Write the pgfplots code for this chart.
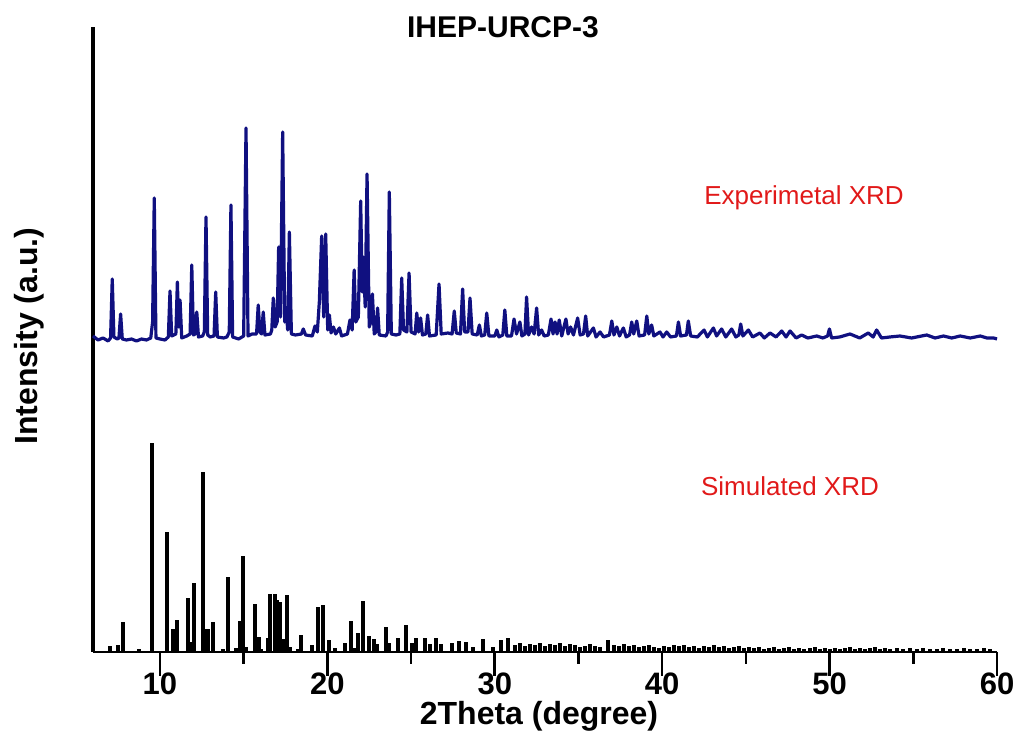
\documentclass[border=0pt]{standalone}
\usepackage{fontspec}
\setmainfont{Liberation Sans}
\usepackage{pgfplots}
\pgfplotsset{compat=1.18}
\definecolor{expblue}{RGB}{16,16,128}
\definecolor{lblred}{RGB}{225,25,25}

\begin{document}
\begin{tikzpicture}
\begin{axis}[
    at={(0,0)}, anchor=south west,
    scale only axis, width=904pt, height=625pt,
    xmin=6, xmax=60, ymin=0, ymax=625,
    axis x line*=bottom, axis y line*=left,
    x axis line style={line width=2.4pt, black},
    y axis line style={line width=3.5pt, black},
    ytick=\empty,
    xtick={10,20,...,60},
    minor xtick={15,25,...,55},
    tick align=outside,
    major tick length=24pt, minor tick length=12pt,
    tick style={draw=black, line width=2.6pt},
    /pgf/number format/assume math mode=true,
    xticklabel style={font=\fontsize{31}{31}\selectfont\bfseries, yshift=7pt},
    xlabel={2Theta (degree)},
    xlabel style={at={(axis description cs:0.4934,-0.1024)}, anchor=center,
        font=\fontsize{32}{32}\selectfont\bfseries},
    ylabel={Intensity (a.u.)},
    ylabel style={at={(axis description cs:-0.0708,0.5056)}, anchor=center, rotate=0,
        font=\fontsize{32}{32}\selectfont\bfseries},
    clip=false,
    ]
% simulated pattern
\addplot[ycomb, black, line width=4pt, line cap=butt] coordinates {
(7.02,6) (7.51,7) (7.81,30) (8.75,3) (9.5,209) (10.4,120) (10.8,23) (11.04,32)
(11.66,54) (11.8,10) (12.05,69) (12.55,180) (12.75,23) (12.87,23) (13.15,30)
(13.78,3) (14.08,75) (14.52,4) (14.78,31) (14.98,96) (15.12,5) (15.68,48)
(15.92,15) (16.05,3) (16.43,14) (16.57,58) (16.87,58) (17.01,52) (17.17,50)
(17.33,13) (17.57,57) (17.77,5) (18.23,3) (18.43,17) (19.06,7) (19.46,45)
(19.76,47) (20.12,12) (20.46,4) (21.05,9) (21.41,31) (21.65,4) (21.85,19)
(22.15,51) (22.47,16) (22.79,13) (22.98,8) (23.5,25) (23.7,9) (24.24,14)
(24.68,27) (25.03,9) (25.3,14) (25.83,14) (26.13,8) (26.47,14) (26.79,8)
(27.43,9) (27.88,11) (28.28,10) (28.68,5) (29.32,13) (29.92,5) (30.36,12)
(30.81,14) (31.2,7) (31.5,9) (31.8,6) (32.1,8) (32.4,7) (32.7,9) (33.0,6)
(33.3,8) (33.6,7) (33.9,9) (34.2,6) (34.5,8) (34.8,7) (35.1,5) (35.4,6)
(35.7,8) (36.0,6) (36.3,5) (36.78,12) (37.1,7) (37.4,6) (37.7,8) (38.0,6)
(38.3,7) (38.6,5) (38.9,6) (39.2,7) (39.5,5) (39.8,4) (40.1,6) (40.4,5)
(40.7,7) (41.0,6) (41.3,7) (41.6,5) (41.9,6) (42.2,4) (42.5,6) (42.8,5)
(43.1,7) (43.4,5) (43.7,6) (44.0,4) (44.3,5) (44.6,6) (44.9,4) (45.2,5)
(45.5,4) (45.8,5) (46.1,3) (46.4,4) (46.7,5) (47.0,3) (47.3,4) (47.6,5)
(47.9,3) (48.2,4) (48.5,3) (48.8,4) (49.1,5) (49.4,3) (49.7,4) (50.0,3)
(50.3,4) (50.6,3) (50.9,4) (51.2,5) (51.5,3) (51.8,4) (52.1,3) (52.4,4)
(52.7,5) (53.0,3) (53.3,4) (53.6,3) (54.0,4) (54.4,3) (54.8,4) (55.2,3)
(55.6,4) (56.0,3) (56.4,3) (56.8,4) (57.2,3) (57.6,3) (58.0,4) (58.4,3)
(58.8,3) (59.2,4) (59.6,3)
};
% experimental pattern
\addplot[expblue, line width=3.2pt, line join=round] coordinates {
(6.0,316) (6.3,312) (6.6,314) (6.9,311) (7.05,314) (7.15,373) (7.25,315)
(7.45,313) (7.55,314) (7.65,338) (7.75,313) (8.0,312) (8.3,313) (8.6,311)
(8.9,313) (9.2,312) (9.45,314) (9.56,330) (9.66,454) (9.76,314) (10.0,313)
(10.3,312) (10.5,315) (10.6,361) (10.7,316) (10.95,318) (11.04,370) (11.12,325)
(11.2,352) (11.3,314) (11.6,316) (11.8,318) (11.9,387) (12.0,317) (12.1,318)
(12.2,340) (12.3,315) (12.55,316) (12.65,320) (12.75,435) (12.85,317) (13.0,315)
(13.23,316) (13.33,360) (13.43,315) (13.8,314) (14.0,315) (14.14,320) (14.24,447)
(14.34,315) (14.7,313) (15.0,316) (15.14,524) (15.26,316) (15.5,318) (15.77,318)
(15.87,347) (15.97,320) (16.07,318) (16.17,340) (16.27,317) (16.6,318) (16.68,322)
(16.77,354) (16.88,325) (17.0,330) (17.09,405) (17.2,335) (17.33,520) (17.45,330)
(17.55,340) (17.63,322) (17.73,420) (17.85,318) (18.1,317) (18.45,318) (18.56,323)
(18.7,317) (19.1,316) (19.26,326) (19.4,320) (19.52,350) (19.66,416) (19.78,335)
(19.9,418) (20.02,322) (20.12,337) (20.22,319) (20.36,325) (20.5,318) (20.72,324)
(20.85,316) (21.2,318) (21.35,332) (21.48,322) (21.6,382) (21.7,330) (21.85,335)
(21.99,451) (22.08,360) (22.15,395) (22.26,345) (22.37,478) (22.5,325) (22.6,330)
(22.69,358) (22.8,318) (22.9,320) (23.0,344) (23.1,317) (23.5,316) (23.6,320)
(23.7,460) (23.82,318) (24.1,317) (24.33,318) (24.44,374) (24.55,322) (24.75,320)
(24.88,379) (25.0,320) (25.24,318) (25.34,339) (25.45,320) (25.57,334) (25.68,317)
(25.88,318) (25.99,337) (26.1,316) (26.5,317) (26.67,368) (26.8,318) (27.2,319)
(27.45,318) (27.58,341) (27.7,319) (27.95,318) (28.08,363) (28.2,320) (28.4,320)
(28.52,354) (28.65,318) (28.95,317) (29.08,327) (29.2,316) (29.4,317) (29.52,339)
(29.65,316) (30.0,316) (30.12,322) (30.25,315) (30.48,317) (30.6,342) (30.72,316)
(31.0,316) (31.15,333) (31.3,318) (31.5,330) (31.62,316) (31.8,318) (31.9,355)
(32.02,317) (32.2,325) (32.35,318) (32.5,344) (32.62,317) (32.8,322) (32.95,316)
(33.2,317) (33.36,333) (33.48,318) (33.6,330) (33.72,318) (33.85,332) (34.0,316)
(34.25,333) (34.38,318) (34.53,325) (34.7,317) (34.95,334) (35.1,317) (35.3,318)
(35.43,336) (35.55,316) (35.89,324) (36.05,315) (36.29,320) (36.5,315) (36.85,317)
(36.99,331) (37.12,317) (37.29,325) (37.45,316) (37.68,324) (37.85,315) (38.05,317)
(38.18,330) (38.3,318) (38.48,331) (38.62,316) (38.95,317) (39.08,336) (39.2,318)
(39.37,327) (39.5,316) (39.87,320) (40.05,315) (40.27,320) (40.5,315) (40.85,316)
(40.97,330) (41.1,316) (41.45,317) (41.56,331) (41.7,316) (42.1,315) (42.5,322)
(42.7,315) (43.06,324) (43.25,316) (43.55,323) (43.8,315) (44.15,323) (44.4,315)
(44.58,317) (44.69,328) (44.82,316) (45.15,322) (45.4,315) (45.84,319) (46.1,314)
(46.44,319) (46.8,315) (47.14,321) (47.4,315) (47.64,321) (48.0,314) (48.33,317)
(48.7,314) (49.23,316) (49.6,314) (49.88,316) (49.99,323) (50.12,314) (50.6,315)
(51.22,318) (51.8,314) (52.31,319) (52.6,315) (52.81,322) (53.1,314) (53.6,315)
(54.2,316) (54.9,314) (55.8,317) (56.3,314) (56.8,316) (57.3,314) (57.8,316)
(58.4,314) (59.0,316) (59.4,314) (59.8,314) (60.0,313)
};
\node[font=\fontsize{30}{30}\selectfont\bfseries] at (axis description cs:0.4535,1.0) {IHEP-URCP-3};
\node[font=\fontsize{26}{26}\selectfont, text=lblred] at (axis description cs:0.7865,0.7264) {Experimetal XRD};
\node[font=\fontsize{26}{26}\selectfont, text=lblred] at (axis description cs:0.771,0.2656) {Simulated XRD};
\end{axis}
\pgfresetboundingbox
\path (-93pt,-81pt) rectangle (925pt,652pt);
\end{tikzpicture}
\end{document}
